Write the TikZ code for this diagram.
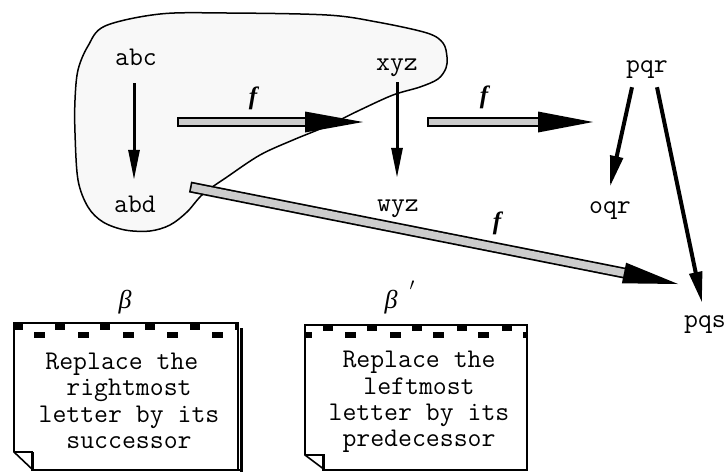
\documentclass[tikz,border=0pt]{standalone}
\usepackage{fontspec}
\newfontfamily\tms{Liberation Serif}
\usetikzlibrary{arrows.meta,calc}
\definecolor{blobgray}{RGB}{248,248,248}
\definecolor{bodygray}{RGB}{204,204,204}
\newcommand{\fatarrow}[5]{% start, headbase, tip, halfhead, bodywidth
  \draw[line width=#5, line cap=butt] (#1) -- (#2);
  \draw[line width=#5-3.4pt, draw=bodygray, line cap=butt] ($(#1)!1.7pt!(#2)$) -- (#2);
  \fill ($(#2)!#4!90:(#3)$) -- (#3) -- ($(#2)!#4!-90:(#3)$) -- cycle;}
\begin{document}
\begin{tikzpicture}[x=1pt,y=-1pt,
  lbl/.style={font=\ttfamily\fontsize{27}{27}\selectfont, inner sep=0pt, text height=12pt, text depth=4pt, anchor=base},
  flbl/.style={font=\tms\bfseries\itshape\fontsize{25}{25}\selectfont, inner sep=0pt},
  blbl/.style={font=\tms\itshape\fontsize{26}{26}\selectfont, inner sep=0pt},
  notetext/.style={font=\ttfamily\fontsize{27}{26.4}\selectfont, inner sep=0pt, align=center},
  thinarr/.style={line width=3pt, -{Triangle[length=30pt,width=11pt]}},
  thickarr/.style={line width=4pt, -{Triangle[length=31pt,width=12.5pt]}},
  notebox/.style={draw, fill=white, line width=1.6pt, line join=miter}]
\useasboundingbox (0,0) rectangle (727,472);

% blob
\draw[fill=blobgray, line width=1.5pt] plot[smooth cycle, tension=0.55] coordinates {
 (105,26) (160,14) (227,13) (327,15) (377,22) (427,33) (443,43) (447,57) (446,68)
 (438,79) (420,87) (393,95) (360,110) (327,126) (293,140) (260,155) (227,177) (203,194)
 (187,212) (170,225) (150,231) (125,230) (103,222) (88,207) (78,180) (75,133) (75,100)
 (78,70) (88,46)};

% labels
\node[lbl] (abc) at (136,65) {abc};
\node[lbl] (abd) at (135,212) {abd};
\node[lbl] (xyz) at (397,70) {xyz};
\node[lbl] (wyz) at (398,211) {wyz};
\node[lbl] (pqr) at (647,72) {pqr};
\node[lbl] (oqr) at (610,213) {oqr};
\node[lbl] (pqs) at (705,327) {pqs};

% black arrows
\draw[thinarr] ($(abc.south)+(-2,14)$) -- ($(abd.north)+(-1,-20)$);
\draw[thinarr] ($(xyz.south)+(0,8)$) -- ($(wyz.north)+(-1,-21)$);
\draw[thickarr] ($(pqr.south)+(-15,11)$) -- ($(oqr.north)+(0,-14)$);
\draw[thickarr] ($(pqr.south)+(10,11)$) -- ($(pqs.north)+(-3,-12)$);

% f arrows
\coordinate (f1s) at (177,122); \coordinate (f1b) at (305,122); \coordinate (f1t) at (363,122);
\coordinate (f2s) at (427,122); \coordinate (f2b) at (538,122); \coordinate (f2t) at (593,122);
\coordinate (f3s) at (190,187); \coordinate (f3b) at (624,273); \coordinate (f3t) at (678,284);
\fatarrow{f1s}{f1b}{f1t}{10.5pt}{10pt}
\fatarrow{f2s}{f2b}{f2t}{10.5pt}{10pt}
\fatarrow{f3s}{f3b}{f3t}{10.5pt}{11pt}
\node[flbl] (fa) at (253,98) {f};
\node[flbl] (fb) at (484,97) {f};
\node[flbl] (fc) at (497,223) {f};

% beta labels
\node[blbl] (b1) at (125,302) {β};
\node[blbl] (b2) at (391,302) {β};
\node[inner sep=0pt, font=\fontsize{16}{16}\selectfont] (b2p) at (412,286) {$\prime$};

% note 1
\draw[notebox] (14,323) -- (238,323) -- (238,470) -- (33,470) -- (14,452) -- cycle;
\draw[line width=3pt] (241,328) -- (241,471.5);
\draw[line width=2.2pt] (33,470) -- (240,470);
\draw[line width=1.4pt] (14,452) -- (33,452);
\draw[line width=3pt] (32,452) -- (32,471);
\foreach \x in {13,55,100,145,190} \fill (\x,322) rectangle ++(10,8);
\fill (235,322) rectangle (239,330);
\foreach \x in {34,78,123,167,212} \fill (\x,332) rectangle ++(11,6);
\node[notetext] (n1) at (129,401) {Replace the\hspace*{14.2pt}\\rightmost\\letter by its\\successor};

% note 2
\draw[notebox] (305,325) -- (527,325) -- (527,470) -- (325,470) -- (305,455) -- cycle;
\draw[line width=1.4pt] (305,455) -- (325,455);
\draw[line width=3pt] (323.5,455) -- (323.5,471);
\foreach \x in {323,367,412,457,502} \fill (\x,324.5) rectangle ++(10,6.5);
\foreach \x in {345,390,433,478} \fill (\x,332) rectangle ++(11,6);
\fill (305,332) rectangle (312,338);
\fill (523,332) rectangle (528,338);
\node[notetext] (n2) at (419,402) {Replace the\\leftmost\\letter by its\\predecessor};
\end{tikzpicture}
\end{document}
